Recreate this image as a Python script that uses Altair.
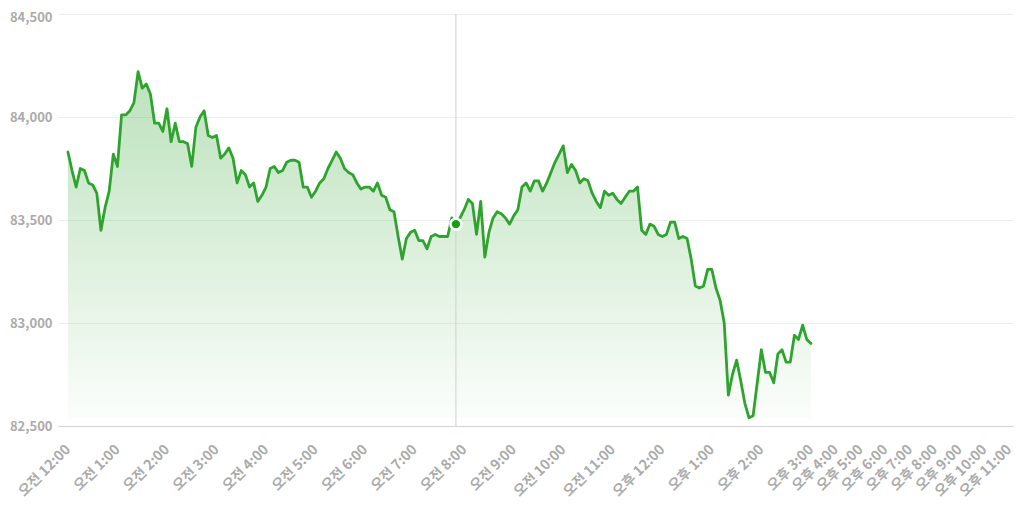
import json
import altair as alt
import pandas as pd

# 5-minute prices from 오전 12:00 to 오후 3:00
prices = [
    83830, 83740, 83660, 83750, 83740, 83680, 83670, 83630, 83450, 83560,
    83640, 83820, 83760, 84010, 84010, 84030, 84070, 84220, 84140, 84160,
    84110, 83970, 83970, 83930, 84040, 83880, 83970, 83880, 83880, 83870,
    83760, 83950, 84000, 84030, 83910, 83900, 83910, 83800, 83820, 83850,
    83800, 83680, 83740, 83720, 83660, 83680, 83590, 83620, 83660, 83750,
    83760, 83730, 83740, 83780, 83790, 83790, 83780, 83660, 83660, 83610,
    83640, 83680, 83700, 83750, 83790, 83830, 83800, 83750, 83730, 83720,
    83680, 83650, 83660, 83660, 83640, 83680, 83620, 83610, 83550, 83540,
    83420, 83310, 83410, 83440, 83450, 83400, 83400, 83360, 83420, 83430,
    83420, 83420, 83420, 83510, 83480, 83510, 83550, 83600, 83580, 83430,
    83590, 83320, 83440, 83510, 83540, 83530, 83510, 83480, 83520, 83550,
    83660, 83680, 83640, 83690, 83690, 83640, 83680, 83730, 83780, 83820,
    83860, 83730, 83770, 83740, 83680, 83700, 83690, 83630, 83590, 83560,
    83640, 83620, 83630, 83600, 83580, 83610, 83640, 83640, 83660, 83450,
    83430, 83480, 83470, 83430, 83420, 83430, 83490, 83490, 83410, 83420,
    83410, 83310, 83180, 83170, 83180, 83260, 83260, 83170, 83110, 83000,
    82650, 82750, 82820, 82720, 82610, 82540, 82550, 82710, 82870, 82760,
    82760, 82710, 82850, 82870, 82810, 82810, 82940, 82920, 82990, 82920,
    82900,
]

hour_labels = [
    "오전 12:00", "오전 1:00", "오전 2:00", "오전 3:00", "오전 4:00", "오전 5:00",
    "오전 6:00", "오전 7:00", "오전 8:00", "오전 9:00", "오전 10:00", "오전 11:00",
    "오후 12:00", "오후 1:00", "오후 2:00", "오후 3:00", "오후 4:00", "오후 5:00",
    "오후 6:00", "오후 7:00", "오후 8:00", "오후 9:00", "오후 10:00", "오후 11:00",
]

y_ticks = [82500, 83000, 83500, 84000, 84500]
hover_time = "07:50"

times = [f"{(i * 5) // 60:02d}:{(i * 5) % 60:02d}" for i in range(len(prices))]


def pos_of(hours):
    # hours after 3 PM are drawn at half width (no trading data there)
    return hours if hours <= 15 else 15 + (hours - 15) * 0.5


df = pd.DataFrame({"time": times, "price": prices})
df["hours"] = df["time"].map(lambda t: int(t[:2]) + int(t[3:]) / 60)
df["pos"] = df["hours"].map(pos_of)
df["base"] = df["price"].min()

hover_df = df[df["time"] == hover_time]

tick_pos = [float(pos_of(h)) for h in range(24)]
label_expr = (
    f"{json.dumps(hour_labels, ensure_ascii=False)}"
    f"[indexof({json.dumps(tick_pos)}, datum.value)]"
)

FONT = "Noto Sans CJK KR"
GRAY = "#ababab"
GREEN = "#2ea42e"

x_enc = alt.X(
    "pos:Q",
    scale=alt.Scale(domain=[-0.2, 19.08], nice=False, zero=False),
    axis=alt.Axis(
        values=tick_pos,
        labelExpr=label_expr,
        labelAngle=-45,
        labelAlign="right",
        labelBaseline="middle",
        labelPadding=21,
        labelOverlap=False,
        labelFlush=False,
        labelColor=GRAY,
        labelFont=FONT,
        labelFontSize=14,
        labelFontWeight="bold",
        grid=False,
        ticks=False,
        domainColor="#d4d4d4",
        domainWidth=1,
        title=None,
    ),
)

y_enc = alt.Y(
    "price:Q",
    scale=alt.Scale(domain=[82500, 84500], nice=False, zero=False),
    axis=alt.Axis(
        values=y_ticks,
        format=",.0f",
        grid=True,
        gridColor="#eeeeee",
        domain=False,
        ticks=False,
        labelPadding=6,
        labelOffset=alt.condition(f"datum.value == {max(y_ticks)}", alt.value(3), alt.value(0)),
        labelColor=GRAY,
        labelFont=FONT,
        labelFontSize=13,
        labelFontWeight="bold",
        title=None,
    ),
)

base = alt.Chart(df)

area = base.mark_area(
    color=alt.Gradient(
        gradient="linear",
        stops=[
            alt.GradientStop(color="rgba(46,164,46,0.32)", offset=0),
            alt.GradientStop(color="rgba(46,164,46,0.02)", offset=1),
        ],
        x1=1, x2=1, y1=0, y2=1,
    ),
    interpolate="linear",
).encode(x=x_enc, y=y_enc, y2="base:Q")

line = base.mark_line(
    color=GREEN, strokeWidth=2.8, strokeJoin="round", strokeCap="round"
).encode(x="pos:Q", y="price:Q")

rule = alt.Chart(hover_df).mark_rule(color="#d0d0d0", strokeWidth=1).encode(
    x="pos:Q", y=alt.value(0), y2=alt.value(412)
)

dot = alt.Chart(hover_df).mark_circle(
    size=120, color="#14a014", opacity=1, stroke="white", strokeWidth=2.5, strokeOpacity=1
).encode(x="pos:Q", y="price:Q")

chart = (
    alt.layer(area, rule, line, dot)
    .properties(
        width=955,
        height=412,
        autosize="none",
        padding={"left": 50, "top": 6, "right": 9, "bottom": 76},
        background="white",
    )
    .configure_view(stroke=None)
)

chart.save("out.html", embed_options={"renderer": "svg", "actions": False})
